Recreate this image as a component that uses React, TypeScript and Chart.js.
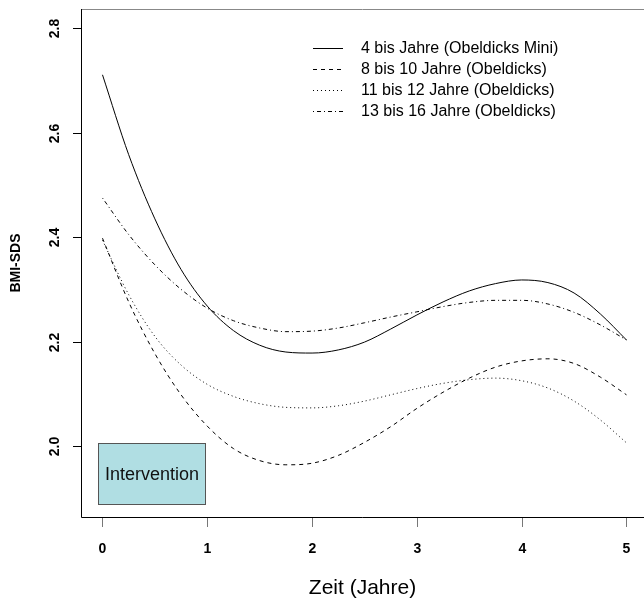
import React, { useEffect, useRef } from "react";
import { Chart, registerables } from "chart.js";

Chart.register(...registerables);

const years = [0, 0.25, 0.5, 0.75, 1, 1.25, 1.5, 1.75, 2, 2.25, 2.5, 2.75, 3, 3.25, 3.5, 3.75, 4, 4.25, 4.5, 4.75, 5];

const mini4 = [2.711, 2.558, 2.435, 2.338, 2.268, 2.221, 2.193, 2.18, 2.178, 2.184, 2.199, 2.224, 2.251, 2.276, 2.297, 2.311, 2.318, 2.313, 2.293, 2.253, 2.203];
const age8to10 = [2.398, 2.276, 2.177, 2.098, 2.038, 1.995, 1.972, 1.964, 1.967, 1.982, 2.007, 2.037, 2.072, 2.103, 2.13, 2.151, 2.163, 2.167, 2.158, 2.132, 2.098];
const age11to12 = [2.394, 2.29, 2.21, 2.155, 2.118, 2.095, 2.081, 2.074, 2.073, 2.077, 2.086, 2.098, 2.11, 2.12, 2.127, 2.13, 2.125, 2.111, 2.086, 2.05, 2.006];
const age13to16 = [2.475, 2.405, 2.347, 2.3, 2.264, 2.24, 2.226, 2.219, 2.22, 2.226, 2.236, 2.247, 2.257, 2.267, 2.275, 2.279, 2.279, 2.272, 2.256, 2.232, 2.203];

const seriesLabels = [
  "4 bis Jahre (Obeldicks Mini)",
  "8 bis 10 Jahre (Obeldicks)",
  "11 bis 12 Jahre (Obeldicks)",
  "13 bis 16 Jahre (Obeldicks)",
];
const seriesDashes: number[][] = [[], [4, 4], [1, 3], [1, 3, 4, 3]];

const xTicks = [0, 1, 2, 3, 4, 5];
const yTicks = [2.0, 2.2, 2.4, 2.6, 2.8];

const interventionX = [-0.04, 0.985];
const interventionY = [1.889, 2.005];
const interventionLabel = "Intervention";

const xTitle = "Zeit (Jahre)";
const yTitle = "BMI-SDS";

const FONT = '"Liberation Sans", Arial, Helvetica, sans-serif';

const decorPlugin = {
  id: "decor",
  beforeDatasetsDraw(chart: any) {
    const ctx = chart.ctx;
    const xs = chart.scales.x;
    const ys = chart.scales.y;
    const x0 = xs.getPixelForValue(interventionX[0]);
    const x1 = xs.getPixelForValue(interventionX[1]);
    const y0 = ys.getPixelForValue(interventionY[1]);
    const y1 = ys.getPixelForValue(interventionY[0]);
    ctx.save();
    ctx.fillStyle = "#B0DEE3";
    ctx.fillRect(x0, y0, x1 - x0, y1 - y0);
    ctx.strokeStyle = "#555";
    ctx.lineWidth = 1;
    ctx.strokeRect(Math.round(x0) + 0.5, Math.round(y0) + 0.5, Math.round(x1 - x0), Math.round(y1 - y0));
    ctx.fillStyle = "#111";
    ctx.font = `18px ${FONT}`;
    ctx.textAlign = "center";
    ctx.textBaseline = "middle";
    ctx.fillText(interventionLabel, (x0 + x1) / 2, (y0 + y1) / 2 + 1);
    ctx.restore();
  },
  afterDraw(chart: any) {
    const ctx = chart.ctx;
    const a = chart.chartArea;
    const xs = chart.scales.x;
    const ys = chart.scales.y;
    ctx.save();
    ctx.lineWidth = 1;
    ctx.strokeStyle = "#888";
    ctx.beginPath();
    ctx.moveTo(a.left, a.top + 0.5);
    ctx.lineTo(a.right, a.top + 0.5);
    ctx.stroke();
    ctx.strokeStyle = "#000";
    ctx.beginPath();
    ctx.moveTo(a.left + 0.5, a.top);
    ctx.lineTo(a.left + 0.5, a.bottom + 0.5);
    ctx.lineTo(a.right, a.bottom + 0.5);
    ctx.stroke();

    ctx.strokeStyle = "#777";
    ctx.fillStyle = "#000";
    ctx.font = `bold 14px ${FONT}`;
    ctx.textAlign = "center";
    ctx.textBaseline = "middle";
    for (const t of xTicks) {
      const px = Math.round(xs.getPixelForValue(t)) + 0.5;
      ctx.beginPath();
      ctx.moveTo(px, a.bottom + 1);
      ctx.lineTo(px, a.bottom + 10);
      ctx.stroke();
      ctx.fillText(String(t), px, a.bottom + 32);
    }
    ctx.strokeStyle = "#000";
    for (const t of yTicks) {
      const py = Math.round(ys.getPixelForValue(t)) + 0.5;
      ctx.beginPath();
      ctx.moveTo(a.left - 8, py);
      ctx.lineTo(a.left, py);
      ctx.stroke();
      ctx.save();
      ctx.translate(a.left - 26, py);
      ctx.rotate(-Math.PI / 2);
      ctx.fillText(t.toFixed(1), 0, 0);
      ctx.restore();
    }
    ctx.font = `21px ${FONT}`;
    ctx.fillText(xTitle, (a.left + a.right) / 2, a.bottom + 71);
    ctx.save();
    ctx.font = `bold 14px ${FONT}`;
    ctx.translate(16, (a.top + a.bottom) / 2);
    ctx.rotate(-Math.PI / 2);
    ctx.fillText(yTitle, 0, 0);
    ctx.restore();

    ctx.font = `16px ${FONT}`;
    ctx.textAlign = "left";
    const lx = 313;
    const ly = 48;
    seriesLabels.forEach((lab, i) => {
      const y = ly + i * 21;
      ctx.strokeStyle = "#000";
      ctx.lineWidth = 1;
      ctx.setLineDash(seriesDashes[i]);
      ctx.beginPath();
      ctx.moveTo(lx, y + 0.5);
      ctx.lineTo(lx + 30, y + 0.5);
      ctx.stroke();
      ctx.setLineDash([]);
      ctx.fillStyle = "#000";
      ctx.fillText(lab, 361, y + 1);
    });
    ctx.restore();
  },
};

export default function App() {
  const ref = useRef<HTMLCanvasElement | null>(null);
  useEffect(() => {
    if (!ref.current) return;
    const all = [mini4, age8to10, age11to12, age13to16];
    const chart = new Chart(ref.current, {
      type: "line",
      data: {
        datasets: all.map((vals, i) => ({
          label: seriesLabels[i],
          data: years.map((x, j) => ({ x, y: vals[j] })),
          borderColor: "#000",
          borderWidth: 1,
          borderDash: seriesDashes[i],
          pointRadius: 0,
          fill: false,
          cubicInterpolationMode: "monotone" as const,
        })),
      },
      options: {
        responsive: false,
        animation: false,
        layout: { padding: { left: 81, top: 9, right: 0, bottom: 87 } },
        plugins: { legend: { display: false }, tooltip: { enabled: false } },
        scales: {
          x: { type: "linear", min: -0.205, max: 5.167, display: false },
          y: { type: "linear", min: 1.864, max: 2.837, display: false },
        },
      },
      plugins: [decorPlugin],
    });
    return () => chart.destroy();
  }, []);
  return (
    <div style={{ position: "absolute", left: 0, top: 0, width: 644, height: 604, background: "#fff" }}>
      <canvas ref={ref} width={644} height={604} />
    </div>
  );
}
